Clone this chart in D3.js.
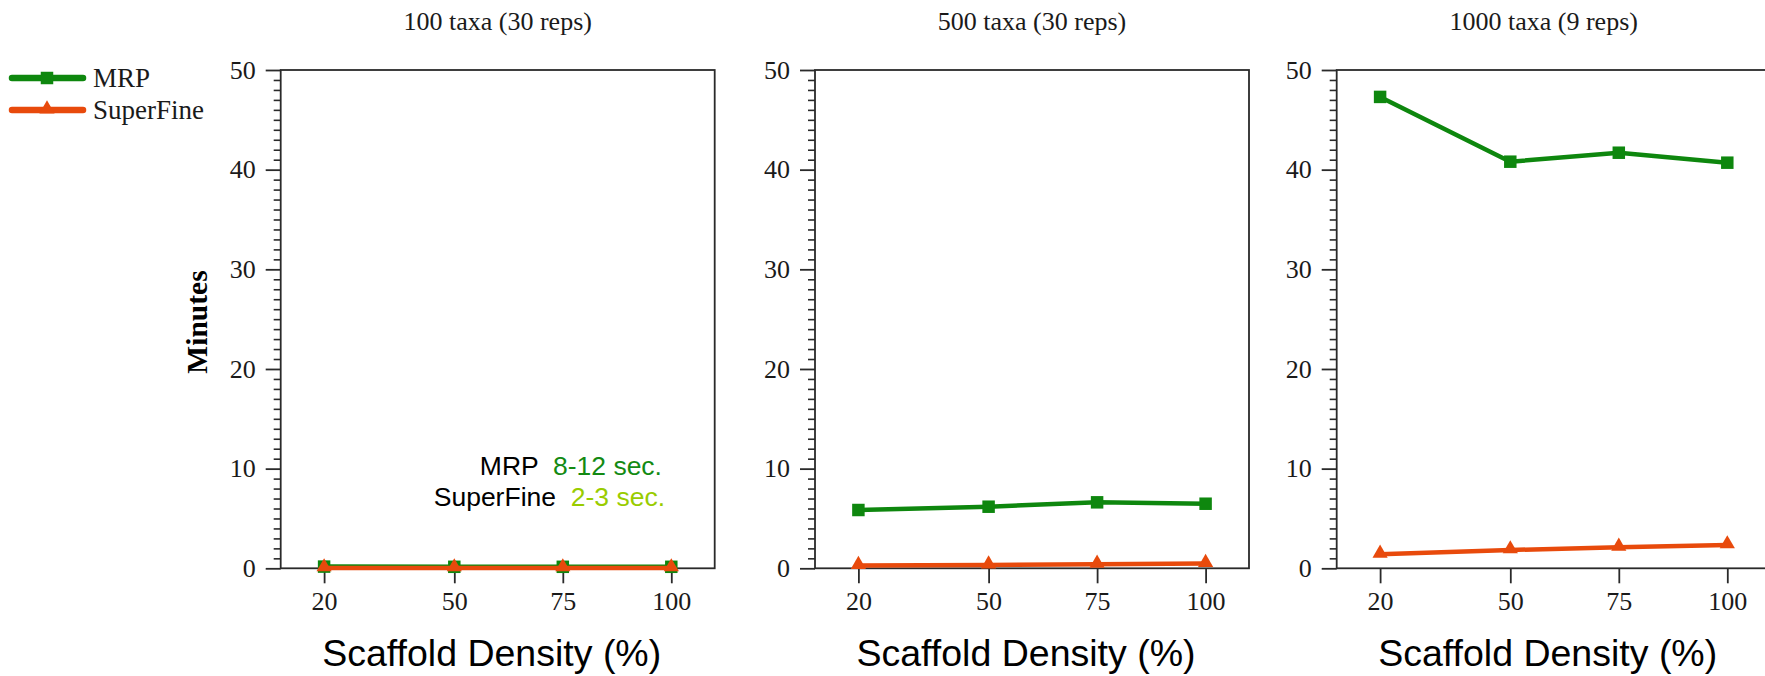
<!DOCTYPE html>
<html>
<head>
<meta charset="utf-8">
<script src="https://cdn.jsdelivr.net/npm/d3@7"></script>
<style>
  html, body { margin: 0; padding: 0; background: #fff; }
  svg { display: block; }
</style>
</head>
<body>
<svg id="chart" width="1765" height="676"></svg>
<script>
// ---- data ----
const densities = [20, 50, 75, 100];
const panelTitles = ["100 taxa (30 reps)", "500 taxa (30 reps)", "1000 taxa (9 reps)"];
const mrpMinutes = [
  [0.17, 0.15, 0.15, 0.15],
  [5.85, 6.18, 6.62, 6.48],
  [47.3, 40.8, 41.7, 40.7]
];
const superFineMinutes = [
  [0.04, 0.04, 0.04, 0.04],
  [0.28, 0.33, 0.40, 0.48],
  [1.40, 1.84, 2.10, 2.34]
];
const seriesNames = ["MRP", "SuperFine"];
const yMajorTicks = [0, 10, 20, 30, 40, 50];
const xTickValues = [20, 50, 75, 100];
const xLabel = "Scaffold Density (%)";
const yLabel = "Minutes";

// ---- layout ----
const svg = d3.select("#chart");
const colors = { MRP: "#0e870e", SuperFine: "#e84a0c" };
const panelLeft = [280.7, 815, 1336.7];
const titleShift = [0, 0, -10];
const plotTop = 70, plotH = 498.3, plotW = 434;
const x = d3.scaleLinear().domain([10, 110]).range([0, plotW]);
const y = d3.scaleLinear().domain([0, 50]).range([plotH, 0]);
const serif = "'Liberation Serif', 'Times New Roman', serif";
const sans = "'Liberation Sans', Arial, sans-serif";
const minorTicks = d3.range(0, 51, 1).filter(v => v % 10 !== 0);

const squareSym = d3.symbol().type(d3.symbolSquare).size(156);
const triSym = d3.symbol().type(d3.symbolTriangle).size(100);

panelTitles.forEach((title, i) => {
  const g = svg.append("g").attr("transform", `translate(${panelLeft[i]},${plotTop})`);

  g.append("text")
    .attr("x", plotW / 2 + titleShift[i]).attr("y", 30 - plotTop)
    .attr("text-anchor", "middle")
    .style("font-family", serif).style("font-size", "26px").attr("fill", "#1a1a1a")
    .text(title);

  g.append("rect").attr("x", 0).attr("y", 0).attr("width", plotW).attr("height", plotH)
    .attr("fill", "none").attr("stroke", "#2a2a2a").attr("stroke-width", 1.8);

  const yAx = g.append("g").call(d3.axisLeft(y).tickValues(yMajorTicks).tickSize(15).tickPadding(10).tickFormat(d3.format("d")));
  yAx.select(".domain").remove();
  yAx.selectAll("line").attr("stroke", "#2a2a2a").attr("stroke-width", 1.8);
  yAx.selectAll("text").style("font-family", serif).style("font-size", "26px").attr("fill", "#1a1a1a");
  const yMin = g.append("g").call(d3.axisLeft(y).tickValues(minorTicks).tickSize(7).tickFormat(""));
  yMin.select(".domain").remove();
  yMin.selectAll("line").attr("stroke", "#2a2a2a").attr("stroke-width", 1.6);

  const xAx = g.append("g").attr("transform", `translate(0,${plotH})`)
    .call(d3.axisBottom(x).tickValues(xTickValues).tickSize(15).tickPadding(8));
  xAx.select(".domain").remove();
  xAx.selectAll("line").attr("stroke", "#2a2a2a").attr("stroke-width", 1.8);
  xAx.selectAll("text").style("font-family", serif).style("font-size", "26px").attr("fill", "#1a1a1a");

  g.append("text")
    .attr("x", plotW / 2 - 6).attr("y", 666 - plotTop)
    .attr("text-anchor", "middle")
    .style("font-family", sans).style("font-size", "37.5px").attr("fill", "#000")
    .text(xLabel);

  const line = d3.line().x((d, j) => x(densities[j])).y(d => y(d));

  g.append("path").datum(mrpMinutes[i]).attr("d", line)
    .attr("fill", "none").attr("stroke", colors.MRP).attr("stroke-width", 4.5).attr("stroke-linejoin", "round");
  g.selectAll(".mrp").data(mrpMinutes[i]).enter().append("path").attr("class", "mrp")
    .attr("transform", (d, j) => `translate(${x(densities[j])},${y(d)})`)
    .attr("d", squareSym).attr("fill", colors.MRP);

  g.append("path").datum(superFineMinutes[i]).attr("d", line)
    .attr("fill", "none").attr("stroke", colors.SuperFine).attr("stroke-width", 4.5).attr("stroke-linejoin", "round");
  g.selectAll(".sf").data(superFineMinutes[i]).enter().append("path").attr("class", "sf")
    .attr("transform", (d, j) => `translate(${x(densities[j])},${y(d) - 1})`)
    .attr("d", triSym).attr("fill", colors.SuperFine);

  if (i === 0) {
    const ann = [
      { label: "MRP", val: "8-12 sec.", col: "#138a13", xe: 662, yb: 475 },
      { label: "SuperFine", val: "2-3 sec.", col: "#99cc00", xe: 665, yb: 506 }
    ];
    ann.forEach(a => {
      const t = g.append("text")
        .attr("x", a.xe - panelLeft[0]).attr("y", a.yb - plotTop)
        .attr("text-anchor", "end")
        .style("font-family", sans).style("font-size", "26.5px")
        .attr("xml:space", "preserve").style("white-space", "pre");
      t.append("tspan").attr("fill", "#000").text(a.label + "  ");
      t.append("tspan").attr("fill", a.col).text(a.val);
    });
  }
});

svg.append("text")
  .attr("transform", "translate(197,322) rotate(-90)")
  .attr("text-anchor", "middle").attr("dominant-baseline", "central")
  .style("font-family", serif).style("font-size", "29.5px").style("font-weight", "bold").attr("fill", "#000")
  .text(yLabel);

const legendY = [78, 110];
seriesNames.forEach((name, k) => {
  const lg = svg.append("g").attr("transform", `translate(0,${legendY[k]})`);
  lg.append("line").attr("x1", 12).attr("x2", 83).attr("y1", 0).attr("y2", 0)
    .attr("stroke", colors[name]).attr("stroke-width", 6.5).attr("stroke-linecap", "round");
  lg.append("path").attr("transform", `translate(47,${k === 0 ? 0 : -1})`)
    .attr("d", k === 0 ? squareSym : triSym).attr("fill", colors[name]);
  lg.append("text").attr("x", 93).attr("y", 0).attr("dominant-baseline", "central")
    .style("font-family", serif).style("font-size", "27px").attr("fill", "#1a1a1a")
    .text(name);
});
</script>
</body>
</html>
